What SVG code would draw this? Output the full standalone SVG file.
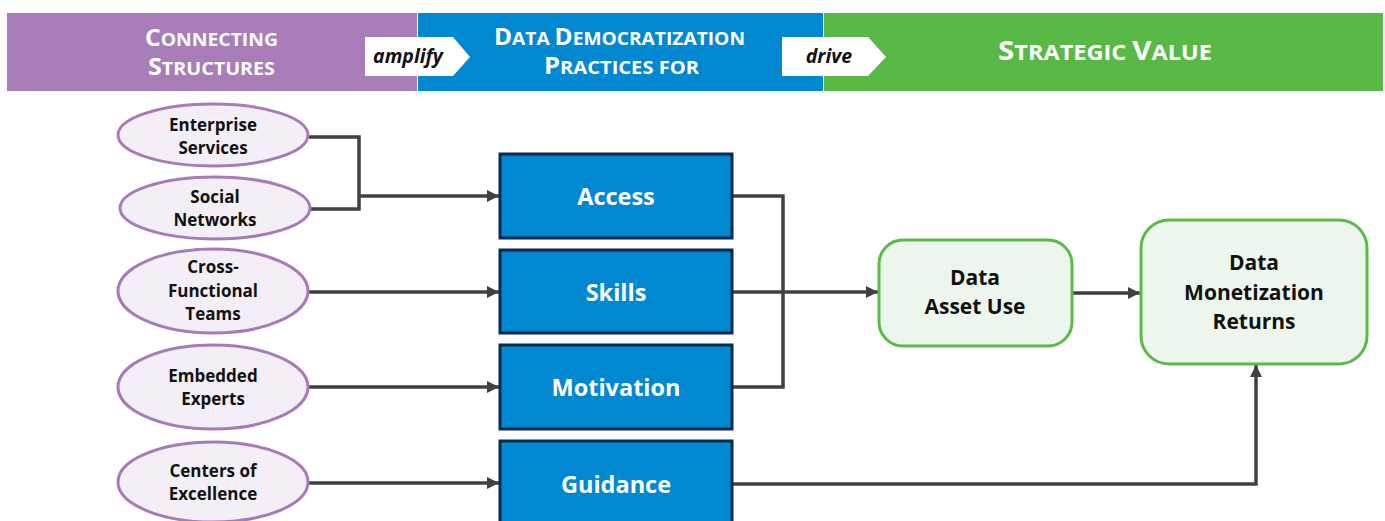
<svg xmlns="http://www.w3.org/2000/svg" width="1385" height="521" viewBox="0 0 1385 521">
  <style>
    .hdr { font-family: "Open Sans", Lato, "Liberation Sans", sans-serif; font-weight: 700; fill: #ffffff; }
    .tag { fill: #ffffff; }
    .tagtxt { font-family: "Open Sans", Lato, "Liberation Sans", sans-serif; font-weight: 700; font-style: italic; font-size: 19.5px; fill: #111111; text-anchor: middle; }
    .oval { fill: #F4EFF7; stroke: #A67CB8; stroke-width: 3; }
    .ovaltxt { font-family: "Open Sans", Lato, "Liberation Sans", sans-serif; font-weight: 700; font-size: 17px; fill: #111111; text-anchor: middle; }
    .box { fill: #0288D1; stroke: #0D2B52; stroke-width: 3; }
    .boxtxt { font-family: "Open Sans", Lato, "Liberation Sans", sans-serif; font-weight: 700; font-size: 23.5px; fill: #ffffff; text-anchor: middle; }
    .res { fill: #EDF6EC; stroke: #5CB94A; stroke-width: 3; }
    .restxt { font-family: "Open Sans", Lato, "Liberation Sans", sans-serif; font-weight: 700; font-size: 21px; fill: #111111; text-anchor: middle; }
    .wire { fill: none; stroke: #404040; stroke-width: 3.5; }
  </style>
  <defs>
    <marker id="arrow" markerUnits="userSpaceOnUse" markerWidth="13" markerHeight="12" refX="12" refY="6" orient="auto">
      <path d="M0,0 L12,6 L0,12 z" fill="#404040"/>
    </marker>
  </defs>

  <!-- header band -->
  <g id="header">
    <rect x="7" y="13" width="410" height="78" fill="#A87DB8"/>
    <rect x="418" y="13" width="405" height="78" fill="#0288D1"/>
    <rect x="824" y="13" width="559" height="78" fill="#58B947"/>

    <text class="hdr" x="145" y="46" textLength="133" lengthAdjust="spacingAndGlyphs"><tspan font-size="23.5">C</tspan><tspan font-size="18.5">ONNECTING</tspan></text>
    <text class="hdr" x="148" y="75" textLength="127" lengthAdjust="spacingAndGlyphs"><tspan font-size="23.5">S</tspan><tspan font-size="18.5">TRUCTURES</tspan></text>

    <text class="hdr" x="494" y="45" textLength="251" lengthAdjust="spacingAndGlyphs"><tspan font-size="23.5">D</tspan><tspan font-size="18.5">ATA </tspan><tspan font-size="23.5">D</tspan><tspan font-size="18.5">EMOCRATIZATION</tspan></text>
    <text class="hdr" x="544" y="74" textLength="155" lengthAdjust="spacingAndGlyphs"><tspan font-size="23.5">P</tspan><tspan font-size="18.5">RACTICES FOR</tspan></text>

    <text class="hdr" x="998" y="60" textLength="214" lengthAdjust="spacingAndGlyphs"><tspan font-size="27">S</tspan><tspan font-size="21.5">TRATEGIC </tspan><tspan font-size="27">V</tspan><tspan font-size="21.5">ALUE</tspan></text>

    <polygon class="tag" points="365,37 453,37 470,57 453,76 365,76"/>
    <text class="tagtxt" x="408" y="63">amplify</text>
    <polygon class="tag" points="782,37 868,37 886,57 868,76 782,76"/>
    <text class="tagtxt" x="829" y="63">drive</text>
  </g>

  <!-- connectors -->
  <g id="connectors">
    <path class="wire" d="M308,137 H359 V209 H311"/>
    <path class="wire" d="M359,196 H499" marker-end="url(#arrow)"/>
    <path class="wire" d="M309,292 H499" marker-end="url(#arrow)"/>
    <path class="wire" d="M309,387 H499" marker-end="url(#arrow)"/>
    <path class="wire" d="M309,483 H499" marker-end="url(#arrow)"/>
    <path class="wire" d="M733,196 H783 V387 H733"/>
    <path class="wire" d="M733,292 H878" marker-end="url(#arrow)"/>
    <path class="wire" d="M1072,293 H1140" marker-end="url(#arrow)"/>
    <path class="wire" d="M733,484 H1256 V365" marker-end="url(#arrow)"/>
  </g>

  <!-- connecting structures -->
  <g id="enterprise-services">
    <ellipse class="oval" cx="213" cy="135" rx="95" ry="31"/>
    <text class="ovaltxt" x="213" y="131">Enterprise</text>
    <text class="ovaltxt" x="213" y="154">Services</text>
  </g>
  <g id="social-networks">
    <ellipse class="oval" cx="215" cy="208" rx="95" ry="31"/>
    <text class="ovaltxt" x="215" y="203">Social</text>
    <text class="ovaltxt" x="215" y="226">Networks</text>
  </g>
  <g id="cross-functional-teams">
    <ellipse class="oval" cx="213" cy="291" rx="95" ry="42"/>
    <text class="ovaltxt" x="213" y="273">Cross-</text>
    <text class="ovaltxt" x="213" y="297">Functional</text>
    <text class="ovaltxt" x="213" y="320">Teams</text>
  </g>
  <g id="embedded-experts">
    <ellipse class="oval" cx="213" cy="387" rx="95" ry="42"/>
    <text class="ovaltxt" x="213" y="382">Embedded</text>
    <text class="ovaltxt" x="213" y="405">Experts</text>
  </g>
  <g id="centers-of-excellence">
    <ellipse class="oval" cx="213" cy="482" rx="95" ry="40"/>
    <text class="ovaltxt" x="213" y="477">Centers of</text>
    <text class="ovaltxt" x="213" y="500">Excellence</text>
  </g>

  <!-- democratization practices -->
  <g id="access">
    <rect class="box" x="500" y="154" width="232" height="84"/>
    <text class="boxtxt" x="616" y="205">Access</text>
  </g>
  <g id="skills">
    <rect class="box" x="500" y="250" width="232" height="83"/>
    <text class="boxtxt" x="616" y="301">Skills</text>
  </g>
  <g id="motivation">
    <rect class="box" x="500" y="345" width="232" height="84"/>
    <text class="boxtxt" x="616" y="396">Motivation</text>
  </g>
  <g id="guidance">
    <rect class="box" x="500" y="441" width="232" height="84"/>
    <text class="boxtxt" x="616" y="493">Guidance</text>
  </g>

  <!-- strategic value -->
  <g id="data-asset-use">
    <rect class="res" x="879" y="240" width="193" height="106" rx="24"/>
    <text class="restxt" x="975" y="285">Data</text>
    <text class="restxt" x="975" y="314">Asset Use</text>
  </g>
  <g id="data-monetization-returns">
    <rect class="res" x="1141" y="220" width="226" height="144" rx="28"/>
    <text class="restxt" x="1254" y="270">Data</text>
    <text class="restxt" x="1254" y="300">Monetization</text>
    <text class="restxt" x="1254" y="329">Returns</text>
  </g>
</svg>
